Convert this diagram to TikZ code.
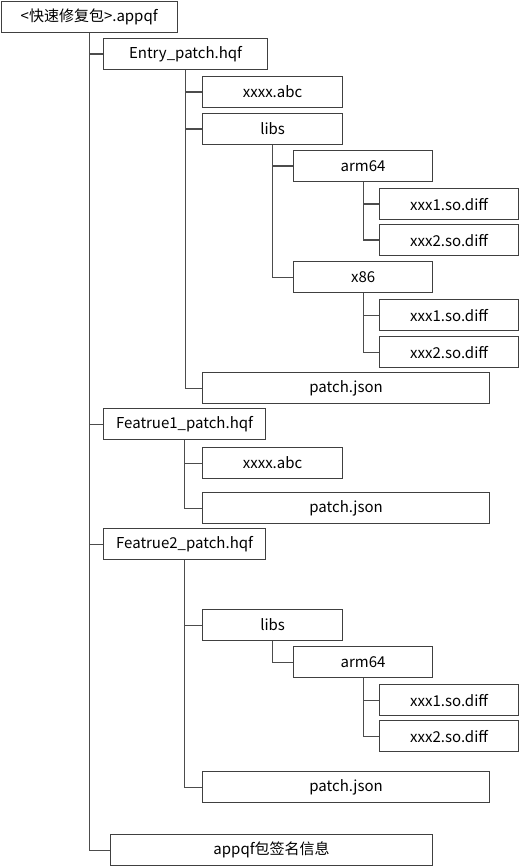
\documentclass[tikz,border=0pt]{standalone}
\usepackage{fontspec}
\setmainfont{Noto Sans CJK SC}
\begin{document}
\begin{tikzpicture}[x=1pt, y=-1pt, every node/.style={align=center}]
  % Define colors
  \colorlet{boxborder}{black!75}
  \colorlet{treeline}{black!70}
  \tikzset{
    filebox/.style={draw=boxborder, line width=1.2pt, fill=white, anchor=north west,
      minimum height=31pt, inner sep=0pt, font=\fontsize{15}{17}\selectfont},
    treeedge/.style={treeline, line width=1.2pt}
  }
  \useasboundingbox (0,0) rectangle (519,866);

  % Root package
  \node[filebox, minimum width=176pt] (root) at (0.6,0.6) {<快速修复包>.appqf};

  % Entry module
  \node[filebox, minimum width=164pt] (entry) at (103,38) {Entry\_patch.hqf};
  \node[filebox, minimum width=140pt] (eabc) at (202,76) {xxxx.abc};
  \node[filebox, minimum width=140pt] (elibs) at (202,113) {libs};
  \node[filebox, minimum width=139pt] (earm) at (293,150) {arm64};
  \node[filebox, minimum width=139pt] (earmone) at (379,188) {xxx1.so.diff};
  \node[filebox, minimum width=139pt] (earmtwo) at (379,224) {xxx2.so.diff};
  \node[filebox, minimum width=139pt] (ex) at (293,261) {x86};
  \node[filebox, minimum width=139pt] (exone) at (379,299) {xxx1.so.diff};
  \node[filebox, minimum width=139pt] (extwo) at (379,336) {xxx2.so.diff};
  \node[filebox, minimum width=287pt] (ejson) at (202,372) {patch.json};

  % Feature modules
  \node[filebox, minimum width=162pt] (fone) at (103,408) {Featrue1\_patch.hqf};
  \node[filebox, minimum width=140pt] (foneabc) at (202,447) {xxxx.abc};
  \node[filebox, minimum width=287pt] (fonejson) at (202,492) {patch.json};

  \node[filebox, minimum width=162pt] (ftwo) at (103,528) {Featrue2\_patch.hqf};
  \node[filebox, minimum width=140pt] (ftwolibs) at (202,609) {libs};
  \node[filebox, minimum width=139pt] (ftwoarm) at (293,646) {arm64};
  \node[filebox, minimum width=139pt] (ftwoone) at (379,684) {xxx1.so.diff};
  \node[filebox, minimum width=139pt] (ftwotwo) at (379,720) {xxx2.so.diff};
  \node[filebox, minimum width=287pt] (ftwojson) at (202,771) {patch.json};

  % Signature
  \node[filebox, minimum width=322pt] (sign) at (110,834) {appqf包签名信息};

  % Connect the tree
  \foreach \parent/\child in {root/entry, root/fone, root/ftwo, root/sign,
      entry/eabc, entry/elibs, entry/ejson,
      elibs/earm, elibs/ex, earm/earmone, earm/earmtwo, ex/exone, ex/extwo,
      fone/foneabc, fone/fonejson,
      ftwo/ftwolibs, ftwo/ftwojson, ftwolibs/ftwoarm,
      ftwoarm/ftwoone, ftwoarm/ftwotwo}
    \draw[treeedge] (\parent.south) |- (\child.west);
\end{tikzpicture}
\end{document}
